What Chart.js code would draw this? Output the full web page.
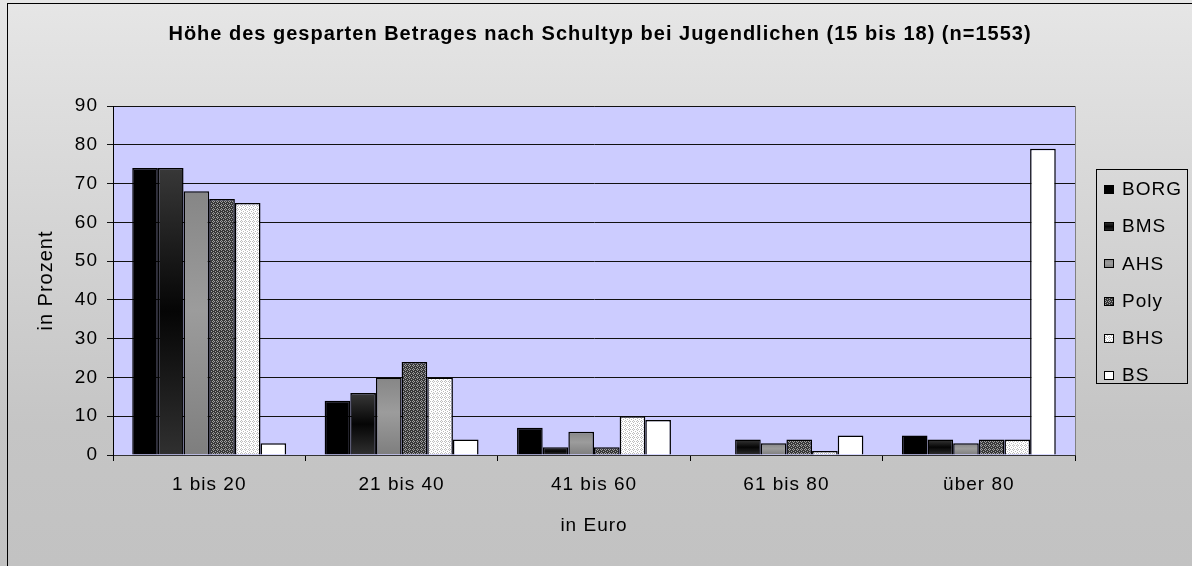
<!DOCTYPE html>
<html>
<head>
<meta charset="utf-8">
<script src="https://cdn.jsdelivr.net/npm/chart.js@4.4.1/dist/chart.umd.min.js"></script>
<style>
  html, body { margin: 0; padding: 0; background: #fff; }
  canvas { display: block; }
</style>
</head>
<body>
<canvas id="chart" width="1192" height="566"></canvas>
<script>
// data (percent per school type)
const categories = ['1 bis 20', '21 bis 40', '41 bis 60', '61 bis 80', 'über 80'];
const seriesNames = ['BORG', 'BMS', 'AHS', 'Poly', 'BHS', 'BS'];
const borgValues = [74, 14, 7, null, 5];
const bmsValues = [74, 16, 2, 4, 4];
const ahsValues = [68, 20, 6, 3, 3];
const polyValues = [66, 24, 2, 4, 4];
const bhsValues = [65, 20, 10, 1, 4];
const bsValues = [3, 4, 9, 5, 79];
const yMin = 0, yMax = 90, yStep = 10;

const chartTitle = 'Höhe des gesparten Betrages nach Schultyp bei Jugendlichen (15 bis 18) (n=1553)';
const FONT = 'Arial, "Liberation Sans", sans-serif';
const SPACING = '1px';

function makePattern(bg, fg, dots) {
  const c = document.createElement('canvas');
  c.width = 4; c.height = 4;
  const g = c.getContext('2d');
  g.fillStyle = bg;
  g.fillRect(0, 0, 4, 4);
  g.fillStyle = fg;
  dots.forEach(([x, y]) => g.fillRect(x, y, 1, 1));
  return g.createPattern(c, 'repeat');
}

const crossDots = [[1, 0], [0, 1], [2, 1], [1, 2], [3, 3]];
const polyFill = makePattern('#383838', '#a0a0a0', crossDots);
const bhsFill = makePattern('#ffffff', '#bdbdbd', crossDots);

// vertical gradient across one bar (top -> base)
function barGradient(c, top, base, stops) {
  const g = c.createLinearGradient(0, top, 0, base);
  stops.forEach(([p, col]) => g.addColorStop(p, col));
  return g;
}
const bmsStops = [[0, '#383838'], [0.5, '#050505'], [1, '#303030']];
const ahsStops = [[0, '#868686'], [0.45, '#9c9c9c'], [1, '#7e7e7e']];

function scriptedGradient(stops, fallback) {
  return (ctx) => {
    const chart = ctx.chart;
    if (ctx.type !== 'data' || !chart.chartArea || !chart.scales.y) return fallback;
    const y = chart.scales.y;
    const top = y.getPixelForValue(ctx.raw);
    const base = y.getPixelForValue(0);
    return barGradient(chart.ctx, top, base, stops);
  };
}

const fills = [
  '#000000',
  scriptedGradient(bmsStops, '#222'),
  scriptedGradient(ahsStops, '#8c8c8c'),
  polyFill,
  bhsFill,
  '#ffffff',
];
const allValues = [borgValues, bmsValues, ahsValues, polyValues, bhsValues, bsValues];

const frameAndPlot = {
  id: 'frameAndPlot',
  beforeUpdate(chart) { chart.ctx.letterSpacing = SPACING; },
  beforeDraw(chart) {
    const c = chart.ctx;
    const { width, height, chartArea: a } = chart;
    c.letterSpacing = SPACING;
    const bg = c.createLinearGradient(0, 0, 0, height);
    bg.addColorStop(0, '#e6e6e6');
    bg.addColorStop(0.75, '#c5c5c5');
    bg.addColorStop(1, '#c2c2c2');
    c.save();
    c.fillStyle = bg;
    c.fillRect(0, 0, width, height);
    c.strokeStyle = '#000';
    c.lineWidth = 1;
    c.strokeRect(7.5, 3.5, width + 20, height + 20);
    c.fillStyle = '#ccccff';
    c.fillRect(a.left, a.top, a.right - a.left, a.bottom - a.top);
    c.strokeStyle = '#808080';
    c.strokeRect(a.left + 0.5, a.top + 0.5, a.right - a.left, a.bottom - a.top);
    // chart title
    c.fillStyle = '#000';
    c.font = 'bold 20px ' + FONT;
    c.textAlign = 'center';
    c.textBaseline = 'middle';
    c.fillText(chartTitle, 600, 34);
    c.restore();
  },
};

const boxLegend = {
  id: 'boxLegend',
  afterDraw(chart) {
    const c = chart.ctx;
    c.save();
    c.strokeStyle = '#000';
    c.lineWidth = 1;
    c.strokeRect(1096.5, 169.5, 91, 214);
    c.font = '19px ' + FONT;
    c.textBaseline = 'middle';
    c.textAlign = 'left';
    seriesNames.forEach((name, i) => {
      const cy = 189 + i * 37.2;
      const x = 1104, sy = Math.round(cy - 4);
      let f = fills[i];
      if (i === 1) f = barGradient(c, sy, sy + 9, bmsStops);
      if (i === 2) f = barGradient(c, sy, sy + 9, ahsStops);
      c.fillStyle = f;
      c.fillRect(x, sy, 10, 9);
      c.strokeRect(x + 0.5, sy + 0.5, 9, 8);
      c.fillStyle = '#000';
      c.fillText(name, 1122, cy + 1);
    });
    c.restore();
  },
};

const ctx = document.getElementById('chart');
new Chart(ctx, {
  type: 'bar',
  data: {
    labels: categories,
    datasets: seriesNames.map((name, i) => ({
      label: name,
      data: allValues[i],
      backgroundColor: fills[i],
      borderColor: '#000',
      borderWidth: 1.5,
      borderSkipped: 'start',
      categoryPercentage: 0.8,
      barPercentage: 1.0,
    })),
  },
  options: {
    responsive: false,
    animation: false,
    events: [],
    layout: { padding: { left: 0, top: 106, right: 117, bottom: 0 } },
    plugins: {
      legend: { display: false },
      tooltip: { enabled: false },
      title: { display: false },
    },
    scales: {
      x: {
        afterFit(scale) { scale.height = 111; },
        grid: {
          offset: true,
          drawOnChartArea: false,
          drawTicks: true,
          tickLength: 6,
          color: '#000',
        },
        border: { color: '#333', width: 1 },
        ticks: { color: '#000', font: { family: FONT, size: 19 }, padding: 12.5, maxRotation: 0 },
        title: {
          display: true,
          text: 'in Euro',
          color: '#000',
          font: { family: FONT, size: 19, lineHeight: 1.2 },
          padding: { top: 0, bottom: 29 },
        },
      },
      y: {
        min: yMin,
        max: yMax,
        afterFit(scale) { scale.width = 113; },
        grid: { color: '#111', tickLength: 6, drawTicks: true },
        border: { color: '#000', width: 1 },
        ticks: { stepSize: yStep, color: '#000', font: { family: FONT, size: 19 }, padding: 9 },
        title: {
          display: true,
          text: 'in Prozent',
          color: '#000',
          font: { family: FONT, size: 20, lineHeight: 1.2 },
          padding: { top: 34, bottom: 0 },
        },
      },
    },
  },
  plugins: [frameAndPlot, boxLegend],
});
</script>
</body>
</html>
